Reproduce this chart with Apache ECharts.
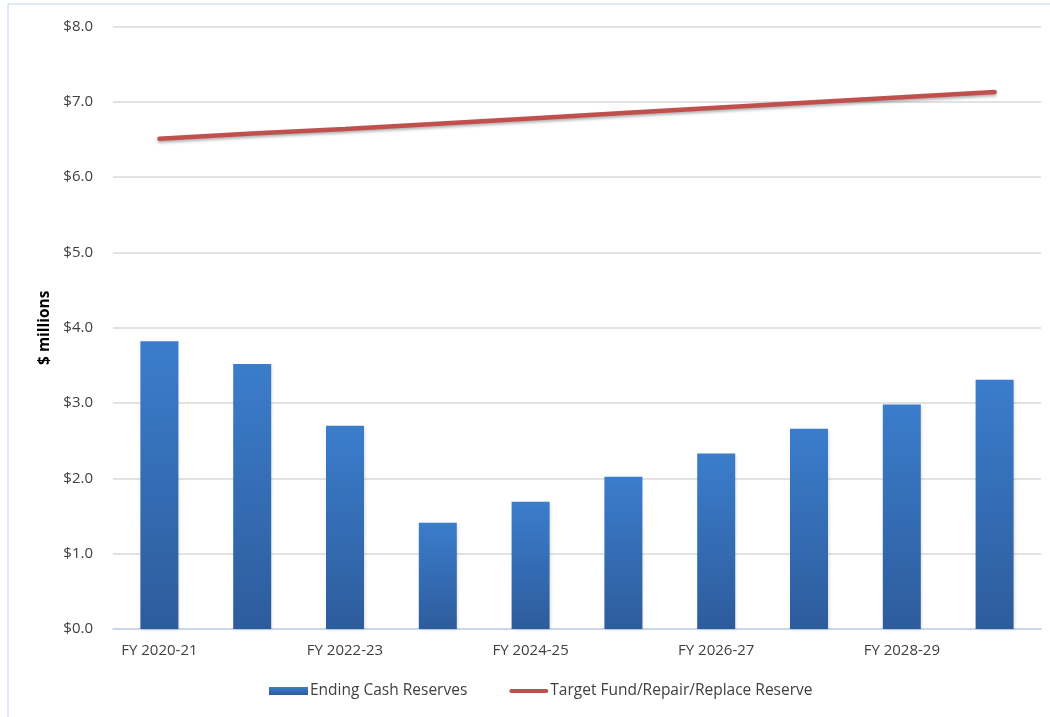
<!DOCTYPE html>
<html>
<head>
<meta charset="utf-8">
<script src="https://cdn.jsdelivr.net/npm/echarts@6/dist/echarts.min.js"></script>
<style>
html,body{margin:0;padding:0;background:#fff;}
#c{width:1050px;height:717px;}
</style>
</head>
<body>
<div id="c"></div>
<script>
var categories = ['FY 2020-21','FY 2021-22','FY 2022-23','FY 2023-24','FY 2024-25','FY 2025-26','FY 2026-27','FY 2027-28','FY 2028-29','FY 2029-30'];
var endingCash = [3.82, 3.52, 2.70, 1.41, 1.69, 2.02, 2.33, 2.66, 2.98, 3.31];
var targetReserve = [6.51, 6.58, 6.64, 6.71, 6.78, 6.85, 6.92, 6.99, 7.06, 7.13];
var yTicks = {min: 0, max: 8, interval: 1};

var chart = echarts.init(document.getElementById('c'), null, {renderer: 'canvas'});
var font = "'Open Sans', 'Noto Sans', sans-serif";
chart.setOption({
  animation: false,
  backgroundColor: '#fff',
  textStyle: {fontFamily: font},
  graphic: [
    {type: 'line', z: -1, shape: {x1: 8, y1: 4, x2: 1050, y2: 4}, style: {stroke: '#d6e1ef', lineWidth: 1.5}},
    {type: 'line', z: -1, shape: {x1: 8, y1: 4, x2: 8, y2: 717}, style: {stroke: '#d6e1ef', lineWidth: 1.5}}
  ],
  grid: {left: 113, right: 9, top: 26.5, bottom: 88, containLabel: false},
  legend: {
    bottom: 13, left: 264, itemGap: 42,
    itemWidth: 39, itemHeight: 8,
    textStyle: {fontSize: 15.5, color: '#404040', fontFamily: font, padding: [0,0,0,-3]},
    data: [
      {name: 'Ending Cash Reserves', icon: 'rect'},
      {name: 'Target Fund/Repair/Replace Reserve', icon: 'path://M2,2 L37,2 A2,2 0 0 1 37,6 L2,6 A2,2 0 0 1 2,2 Z', itemStyle: {color: '#c0504d'}}
    ]
  },
  xAxis: {
    type: 'category', data: categories,
    axisLine: {lineStyle: {color: '#c3d3e8', width: 1.5}},
    axisTick: {show: false},
    axisLabel: {interval: 1, color: '#404040', fontSize: 15, margin: 14, fontFamily: font}
  },
  yAxis: {
    type: 'value', min: yTicks.min, max: yTicks.max, interval: yTicks.interval,
    name: '$ millions', nameLocation: 'middle', nameGap: 60, nameRotate: 90,
    nameTextStyle: {fontSize: 15.5, fontWeight: 'bold', color: '#000', fontFamily: font},
    axisLine: {show: false}, axisTick: {show: false},
    axisLabel: {color: '#404040', fontSize: 15, margin: 20, fontFamily: font,
      formatter: function(v){ return '$' + v.toFixed(1); }},
    splitLine: {lineStyle: {color: '#d9d9d9', width: 1.5}}
  },
  series: [
    {
      name: 'Ending Cash Reserves', type: 'bar', data: endingCash, barWidth: 38,
      itemStyle: {
        color: new echarts.graphic.LinearGradient(0, 0, 0, 1, [
          {offset: 0, color: '#3b7dcc'}, {offset: 1, color: '#2d5c9c'}
        ]),
        shadowColor: 'rgba(0,0,0,0.15)', shadowBlur: 3, shadowOffsetX: 1, shadowOffsetY: 1
      }
    },
    {
      name: 'Target Fund/Repair/Replace Reserve', type: 'line', data: targetReserve,
      symbol: 'none', smooth: false,
      lineStyle: {color: '#c0504d', width: 4.5, cap: 'round',
        shadowColor: 'rgba(0,0,0,0.3)', shadowBlur: 3, shadowOffsetY: 2},
      itemStyle: {color: '#c0504d'}
    }
  ]
});
</script>
</body>
</html>
